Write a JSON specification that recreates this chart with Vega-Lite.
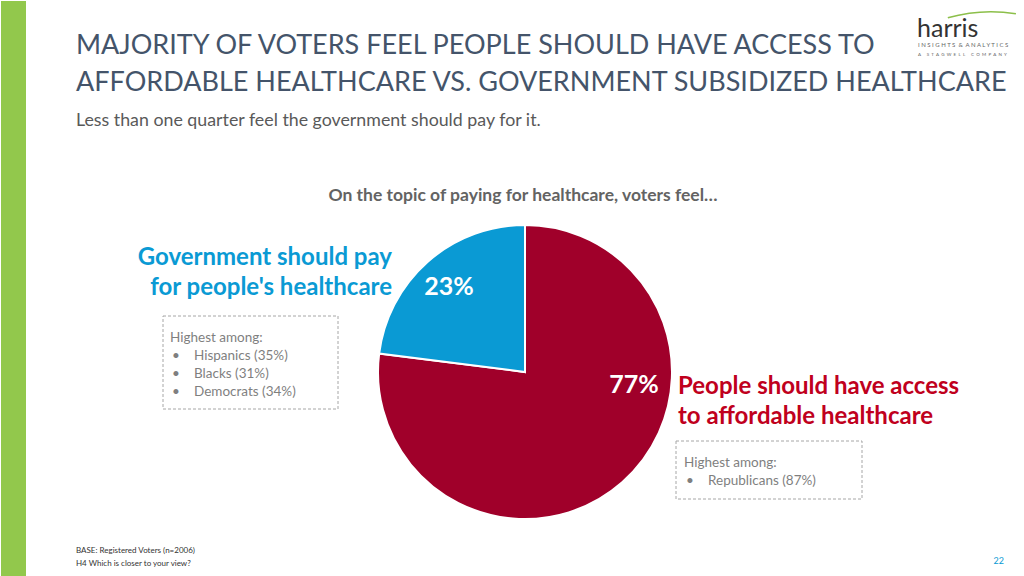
{
  "$schema": "https://vega.github.io/schema/vega-lite/v6.json",
  "width": 1024,
  "height": 576,
  "autosize": {"type": "fit", "contains": "padding"},
  "padding": 0,
  "background": "white",
  "config": {"view": {"stroke": null}, "font": "Lato"},
  "data": {
    "values": [
      {"view": "People should have access to affordable healthcare", "share": 0.77},
      {"view": "Government should pay for people's healthcare", "share": 0.23}
    ]
  },
  "layer": [
    {
      "data": {"values": [{}]},
      "mark": {"type": "rect", "x": 0, "x2": 25, "y": 0, "y2": 576, "fill": "#92c84c"},
      "encoding": {}
    },
    {
      "mark": {"type": "arc", "x": 524, "y": 371, "outerRadius": 147, "stroke": "white", "strokeWidth": 2},
      "encoding": {
        "theta": {"field": "share", "type": "quantitative", "stack": true},
        "color": {
          "field": "view",
          "type": "nominal",
          "scale": {
            "domain": ["People should have access to affordable healthcare", "Government should pay for people's healthcare"],
            "range": ["#a0002a", "#0a9ad4"]
          },
          "legend": null
        },
        "order": {"field": "view", "sort": "descending"}
      }
    },
    {
      "transform": [{"filter": "datum.share < 0.5"}],
      "mark": {"type": "text", "x": 448, "y": 286, "align": "center", "baseline": "middle", "fontSize": 25, "fontWeight": "bold", "fill": "white"},
      "encoding": {"text": {"field": "share", "type": "quantitative", "format": ".0%"}}
    },
    {
      "transform": [{"filter": "datum.share > 0.5"}],
      "mark": {"type": "text", "x": 633, "y": 384, "align": "center", "baseline": "middle", "fontSize": 25, "fontWeight": "bold", "fill": "white"},
      "encoding": {"text": {"field": "share", "type": "quantitative", "format": ".0%"}}
    },
    {
      "data": {"values": [{}]},
      "mark": {"type": "text", "x": 75, "y": 53, "align": "left", "baseline": "alphabetic", "fontSize": 27, "fill": "#44546a", "lineHeight": 37,
        "text": ["MAJORITY OF VOTERS FEEL PEOPLE SHOULD HAVE ACCESS TO", "AFFORDABLE HEALTHCARE VS. GOVERNMENT SUBSIDIZED HEALTHCARE"]},
      "encoding": {}
    },
    {
      "data": {"values": [{}]},
      "mark": {"type": "text", "x": 75, "y": 125, "align": "left", "baseline": "alphabetic", "fontSize": 17.8, "fill": "#595959",
        "text": "Less than one quarter feel the government should pay for it."},
      "encoding": {}
    },
    {
      "data": {"values": [{}]},
      "mark": {"type": "text", "x": 522, "y": 200, "align": "center", "baseline": "alphabetic", "fontSize": 17.5, "fontWeight": "bold", "fill": "#636363",
        "text": "On the topic of paying for healthcare, voters feel…"},
      "encoding": {}
    },
    {
      "data": {"values": [{}]},
      "mark": {"type": "text", "x": 391, "y": 264, "align": "right", "baseline": "alphabetic", "fontSize": 24, "fontWeight": "bold", "fill": "#0a9ad4", "lineHeight": 30,
        "text": ["Government should pay", "for people's healthcare"]},
      "encoding": {}
    },
    {
      "data": {"values": [{}]},
      "mark": {"type": "text", "x": 677, "y": 393, "align": "left", "baseline": "alphabetic", "fontSize": 24, "fontWeight": "bold", "fill": "#c0001d", "lineHeight": 30,
        "text": ["People should have access", "to affordable healthcare"]},
      "encoding": {}
    },
    {
      "data": {"values": [{}]},
      "mark": {"type": "rect", "x": 162, "x2": 337, "y": 315, "y2": 408, "fill": null, "stroke": "#a6a6a6", "strokeWidth": 1, "strokeDash": [3, 2]},
      "encoding": {}
    },
    {
      "data": {"values": [{}]},
      "mark": {"type": "rule", "x": 337, "y": 329, "x2": 400, "y2": 323, "stroke": "#8c8c8c", "strokeWidth": 1, "strokeDash": [3, 2]},
      "encoding": {}
    },
    {
      "data": {"values": [{}]},
      "mark": {"type": "rule", "x": 337, "y": 353, "x2": 400, "y2": 323, "stroke": "#8c8c8c", "strokeWidth": 1, "strokeDash": [3, 2]},
      "encoding": {}
    },
    {
      "data": {"values": [{}]},
      "mark": {"type": "text", "x": 169, "y": 341, "align": "left", "baseline": "alphabetic", "fontSize": 13.5, "fill": "#7f7f7f", "text": "Highest among:"},
      "encoding": {}
    },
    {
      "data": {"values": [{}]},
      "mark": {"type": "text", "x": 171, "y": 359, "align": "left", "baseline": "alphabetic", "fontSize": 13.5, "fill": "#7f7f7f", "lineHeight": 18, "text": ["•", "•", "•"]},
      "encoding": {}
    },
    {
      "data": {"values": [{}]},
      "mark": {"type": "text", "x": 193, "y": 359, "align": "left", "baseline": "alphabetic", "fontSize": 13.5, "fill": "#7f7f7f", "lineHeight": 18,
        "text": ["Hispanics (35%)", "Blacks (31%)", "Democrats (34%)"]},
      "encoding": {}
    },
    {
      "data": {"values": [{}]},
      "mark": {"type": "rect", "x": 675, "x2": 861, "y": 440, "y2": 498, "fill": null, "stroke": "#a6a6a6", "strokeWidth": 1, "strokeDash": [3, 2]},
      "encoding": {}
    },
    {
      "data": {"values": [{}]},
      "mark": {"type": "rule", "x": 636, "y": 445, "x2": 675, "y2": 449, "stroke": "#8c8c8c", "strokeWidth": 1, "strokeDash": [3, 2]},
      "encoding": {}
    },
    {
      "data": {"values": [{}]},
      "mark": {"type": "rule", "x": 636, "y": 445, "x2": 675, "y2": 463, "stroke": "#8c8c8c", "strokeWidth": 1, "strokeDash": [3, 2]},
      "encoding": {}
    },
    {
      "data": {"values": [{}]},
      "mark": {"type": "text", "x": 683, "y": 466, "align": "left", "baseline": "alphabetic", "fontSize": 13.5, "fill": "#7f7f7f", "text": "Highest among:"},
      "encoding": {}
    },
    {
      "data": {"values": [{}]},
      "mark": {"type": "text", "x": 685, "y": 484, "align": "left", "baseline": "alphabetic", "fontSize": 13.5, "fill": "#7f7f7f", "text": "•"},
      "encoding": {}
    },
    {
      "data": {"values": [{}]},
      "mark": {"type": "text", "x": 707, "y": 484, "align": "left", "baseline": "alphabetic", "fontSize": 13.5, "fill": "#7f7f7f", "text": "Republicans (87%)"},
      "encoding": {}
    },
    {
      "data": {"values": [{}]},
      "mark": {"type": "text", "x": 75, "y": 552, "align": "left", "baseline": "alphabetic", "fontSize": 8, "fill": "#333333", "lineHeight": 12.5,
        "text": ["BASE: Registered Voters (n=2006)", "H4 Which is closer to your view?"]},
      "encoding": {}
    },
    {
      "data": {"values": [{}]},
      "mark": {"type": "rule", "x": 75, "y": 553.5, "x2": 190, "y2": 553.5, "stroke": "#333333", "strokeWidth": 0.6},
      "encoding": {}
    },
    {
      "data": {"values": [{}]},
      "mark": {"type": "text", "x": 1003, "y": 563, "align": "right", "baseline": "alphabetic", "fontSize": 9, "fill": "#0a9ad4", "text": "22"},
      "encoding": {}
    },
    {
      "data": {"values": [{}]},
      "mark": {"type": "arc", "x": 990, "y": 167, "outerRadius": 157, "innerRadius": 155.5, "theta": -0.28, "theta2": 0.16, "fill": "#8cbf4a"},
      "encoding": {}
    },
    {
      "data": {"values": [{}]},
      "mark": {"type": "text", "x": 916, "y": 36, "align": "left", "baseline": "alphabetic", "fontSize": 25, "fill": "#333333", "text": "harris"},
      "encoding": {}
    },
    {
      "data": {"values": [{}]},
      "mark": {"type": "text", "x": 917, "y": 46, "align": "left", "baseline": "alphabetic", "fontSize": 6, "fill": "#666666", "text": "I N S I G H T S \u00a0&\u00a0 A N A L Y T I C S"},
      "encoding": {}
    },
    {
      "data": {"values": [{}]},
      "mark": {"type": "text", "x": 917, "y": 55, "align": "left", "baseline": "alphabetic", "fontSize": 4.5, "fill": "#666666", "text": "A\u00a0\u00a0\u00a0\u00a0\u00a0S\u00a0\u00a0T\u00a0\u00a0A\u00a0\u00a0G\u00a0\u00a0W\u00a0\u00a0E\u00a0\u00a0L\u00a0\u00a0L\u00a0\u00a0\u00a0\u00a0\u00a0C\u00a0\u00a0O\u00a0\u00a0M\u00a0\u00a0P\u00a0\u00a0A\u00a0\u00a0N\u00a0\u00a0Y"},
      "encoding": {}
    }
  ]
}
